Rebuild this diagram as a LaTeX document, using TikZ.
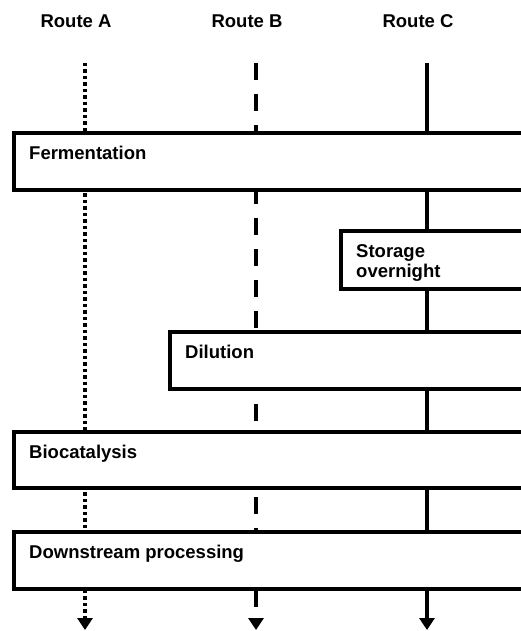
\documentclass[tikz,border=0pt]{standalone}
\usepackage{fontspec}
\setmainfont{Liberation Sans}
\usetikzlibrary{arrows.meta}
\tikzset{
  routelabel/.style={font=\fontsize{18.5}{20}\selectfont\bfseries,anchor=base,inner sep=0pt},
  stagebox/.style={draw,fill=white,line width=4.5pt,rectangle,outer sep=0pt,inner sep=0pt,anchor=north west,minimum height=57pt},
  stagetext/.style={font=\fontsize{18.5}{20.5}\selectfont\bfseries,anchor=north west,inner sep=0pt,align=left},
  flow/.style={line width=4.5pt,-{Triangle[width=15pt,length=12pt]}},
  dottedflow/.style={flow,dash pattern=on 3.5pt off 3pt},
  dashedflow/.style={flow,dash pattern=on 17pt off 14pt},
}
\begin{document}
\begin{tikzpicture}[x=1pt,y=-1pt]
\useasboundingbox (0,0) rectangle (521,631);
\node[routelabel] (ra) at (76,28) {Route A};
\node[routelabel] (rb) at (247,28) {Route B};
\node[routelabel] (rc) at (418,28) {Route C};
\coordinate (atop) at (85,63);
\coordinate (abot) at (85,630);
\coordinate (btop) at (256,63);
\coordinate (bbot) at (256,630);
\coordinate (ctop) at (427,63);
\coordinate (cbot) at (427,630);
\draw[dottedflow] (atop) -- (abot);
\draw[dashedflow] (btop) -- (bbot);
\draw[flow] (ctop) -- (cbot);

\node[stagebox,minimum width=526pt] (ferm) at (14,133) {};
\node[stagetext] at ([shift={(15,13)}]ferm.north west) {Fermentation};
\node[stagebox,minimum width=199pt,minimum height=58pt] (store) at (341,231) {};
\node[stagetext] at ([shift={(15,13)}]store.north west) {Storage\\overnight};
\node[stagebox,minimum width=370pt] (dil) at (170,332) {};
\node[stagetext] at ([shift={(15,13)}]dil.north west) {Dilution};
\node[stagebox,minimum width=526pt,minimum height=56pt] (bio) at (14,432) {};
\node[stagetext] at ([shift={(15,13)}]bio.north west) {Biocatalysis};
\node[stagebox,minimum width=526pt] (dsp) at (14,532) {};
\node[stagetext] at ([shift={(15,13)}]dsp.north west) {Downstream processing};
\end{tikzpicture}
\end{document}
